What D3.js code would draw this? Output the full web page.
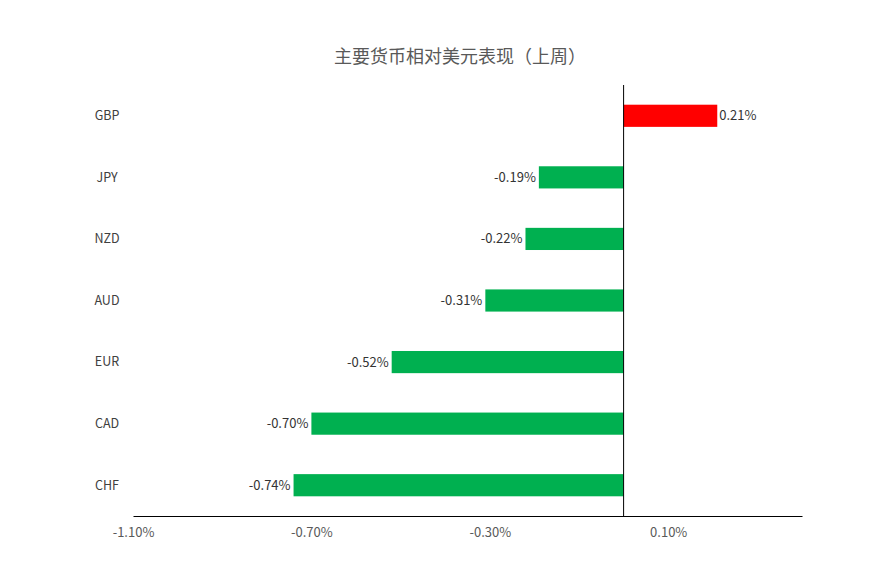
<!DOCTYPE html>
<html><head><meta charset="utf-8">
<script src="https://cdn.jsdelivr.net/npm/d3@7/dist/d3.min.js"></script>
<style>body{margin:0;background:#fff;}svg{display:block;}</style>
</head><body>
<svg id="c" width="871" height="588"></svg>
<script>
const title = "主要货币相对美元表现（上周）";
const categories = ["GBP","JPY","NZD","AUD","EUR","CAD","CHF"];
const values = [0.21,-0.19,-0.22,-0.31,-0.52,-0.70,-0.74];
const tickValues = [-1.10,-0.70,-0.30,0.10];
const xDomain = [-1.10, 0.40];

const svg = d3.select("#c");
const font = "'Noto Sans CJK SC','Noto Sans',sans-serif";
const m = {left:133, right:69, top:85, bottom:72};
const W = 871, H = 588;
const x = d3.scaleLinear().domain(xDomain).range([m.left, W - m.right]);
const y = d3.scaleBand().domain(categories).range([m.top, H - m.bottom]).paddingInner(0.64).paddingOuter(0.32);

svg.append("text").attr("x", 460).attr("y", 63).attr("text-anchor","middle")
  .attr("font-family", font).attr("font-size", 18).attr("fill", "#595959").text(title);

svg.selectAll("rect.bar").data(values).join("rect").attr("class","bar")
  .attr("x", d => x(Math.min(0,d))).attr("width", d => Math.abs(x(d)-x(0)))
  .attr("y", (d,i) => y(categories[i])).attr("height", y.bandwidth())
  .attr("fill", d => d >= 0 ? "#FF0000" : "#00B050");

svg.selectAll("text.val").data(values).join("text").attr("class","val")
  .attr("x", d => d >= 0 ? x(d) + 2 : x(d) - 3)
  .attr("y", (d,i) => y(categories[i]) + y.bandwidth()/2)
  .attr("dy","0.35em").attr("text-anchor", d => d >= 0 ? "start" : "end")
  .attr("font-family", font).attr("font-size", 13).attr("fill", "#333333")
  .text(d => d.toFixed(2) + "%");

// category labels
svg.selectAll("text.cat").data(categories).join("text").attr("class","cat")
  .attr("x", 107).attr("y", d => y(d) + y.bandwidth()/2).attr("dy","0.35em")
  .attr("text-anchor","middle").attr("font-family", font).attr("font-size", 12.5)
  .attr("fill", "#404040").text(d => d);

// zero line
svg.append("line").attr("x1", x(0)).attr("x2", x(0)).attr("y1", m.top).attr("y2", H - m.bottom)
  .attr("stroke", "#000").attr("stroke-width", 1);

// x axis
const ax = svg.append("g").attr("transform", `translate(0,${H - m.bottom})`)
  .call(d3.axisBottom(x).tickValues(tickValues).tickSize(0).tickPadding(12).tickFormat(d => d.toFixed(2) + "%"));
ax.select(".domain").attr("stroke", "#000");
ax.selectAll("text").attr("font-family", font).attr("font-size", 13).attr("fill", "#595959");
</script>
</body></html>
